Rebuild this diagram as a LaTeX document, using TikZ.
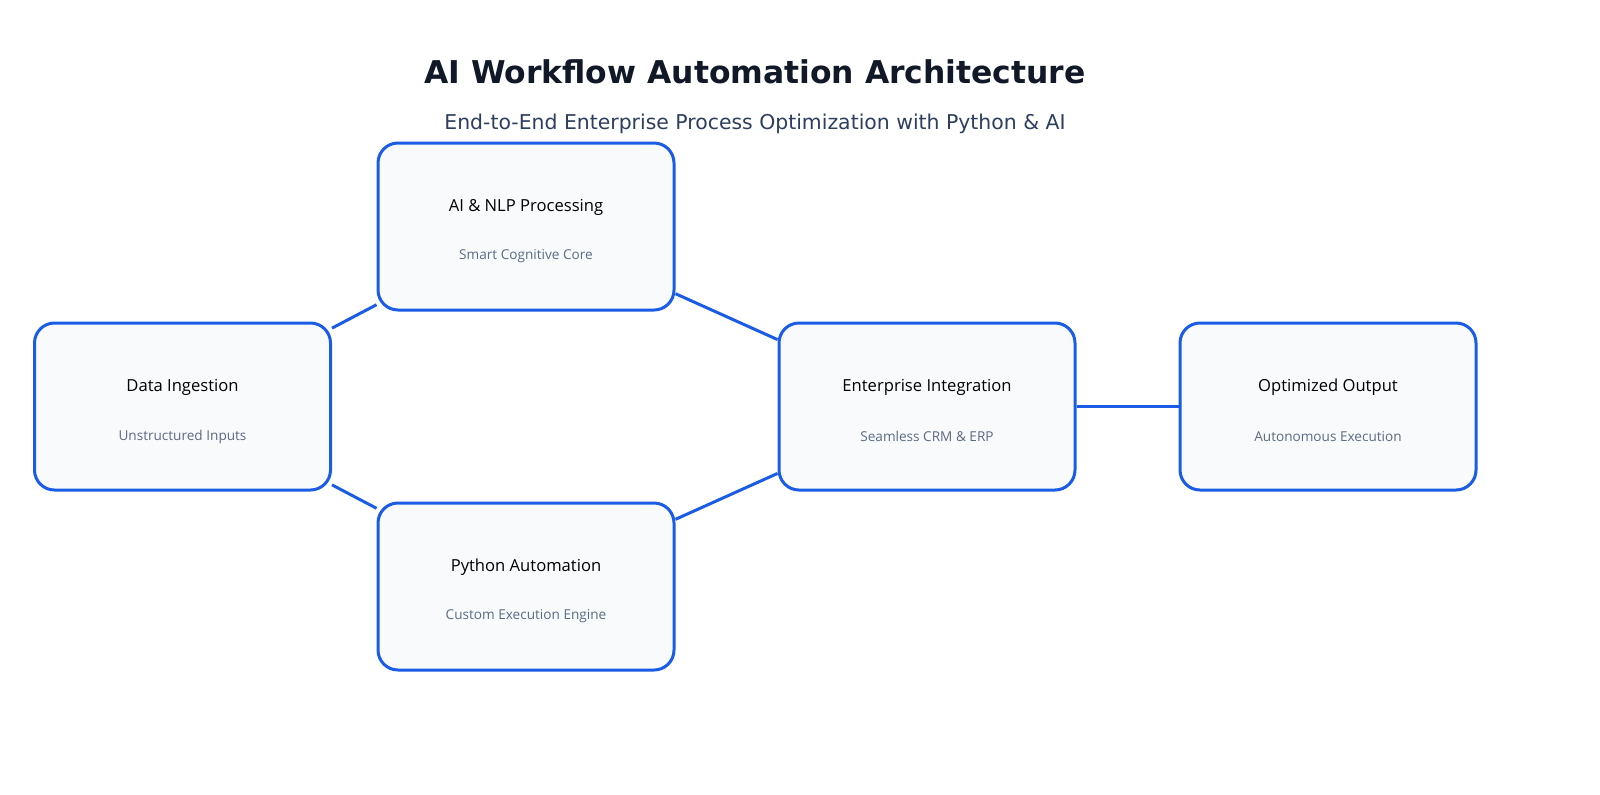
\documentclass[tikz,border=0pt]{standalone}
\usepackage{fontspec}
\setmainfont{Open Sans}
\newfontfamily\titlefont{DejaVu Sans}
\usetikzlibrary{positioning}
\definecolor{boxblue}{HTML}{1A5CE6}
\definecolor{boxfill}{HTML}{F8FAFC}
\definecolor{subgray}{HTML}{5B6B82}
\definecolor{titledark}{HTML}{111827}
\definecolor{subdark}{HTML}{2D3E5E}
\tikzset{
  stage/.style={draw=boxblue, line width=1.5pt, fill=boxfill, rounded corners=10pt,
    minimum width=148pt, minimum height=83.5pt},
  stagename/.style={font=\fontsize{8.3}{10}\selectfont, text=black},
  stagenote/.style={font=\fontsize{6.8}{8}\selectfont, text=subgray},
  link/.style={draw=boxblue, line width=1.5pt}
}
\begin{document}
\begin{tikzpicture}[x=0.5pt,y=-0.5pt]
  \useasboundingbox (0,0) rectangle (1600,794);
  \node[font=\titlefont\bfseries\fontsize{15.7}{19}\selectfont, text=titledark] (title) at (755,72) {AI Workflow Automation Architecture};
  \node[font=\titlefont\fontsize{10.2}{12}\selectfont, text=subdark] (subtitle) at (755,124) {End-to-End Enterprise Process Optimization with Python \& AI};

  % stages
  \node[stage] (ingest) at (182.5,406.5) {};
  \node[stage] (nlp) at (526,226.5) {};
  \node[stage] (python) at (526,586.5) {};
  \node[stage] (erp) at (927,406.5) {};
  \node[stage] (output) at (1328,406.5) {};

  \foreach \n/\a/\b in {ingest/Data Ingestion/Unstructured Inputs,
      nlp/AI \& NLP Processing/Smart Cognitive Core,
      python/Python Automation/Custom Execution Engine,
      erp/Enterprise Integration/Seamless CRM \& ERP,
      output/Optimized Output/Autonomous Execution}{
    \node[stagename] (\n-name) at ([yshift=9.5pt]\n.center) {\a};
    \node[stagenote] (\n-note) at ([yshift=-15pt]\n.center) {\b};
  }

  % links
  \draw[link] (ingest) -- (nlp);
  \draw[link] (ingest) -- (python);
  \draw[link] (nlp) -- (erp);
  \draw[link] (python) -- (erp);
  \draw[link] (erp) -- (output);
\end{tikzpicture}
\end{document}
